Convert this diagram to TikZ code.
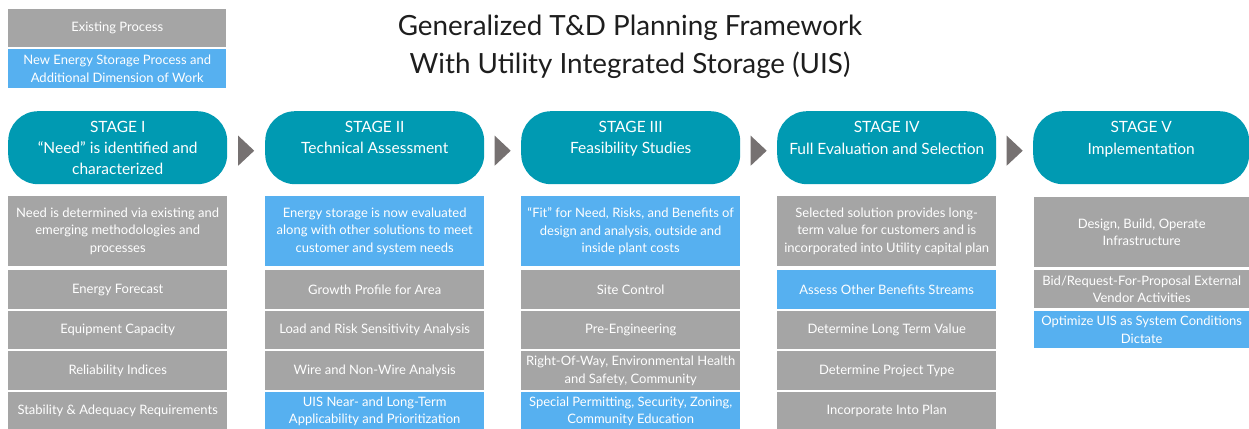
\documentclass[tikz,border=0pt]{standalone}
\usepackage{fontspec}
\setmainfont{Lato}
\usetikzlibrary{calc}
\definecolor{pillteal}{RGB}{0,154,178}
\definecolor{cellgray}{RGB}{165,165,165}
\definecolor{cellblue}{RGB}{86,176,240}
\definecolor{arrowgray}{RGB}{118,113,113}
\definecolor{titleink}{RGB}{30,30,30}
\begin{document}
\begin{tikzpicture}[x=1pt,y=-1pt,
  cell/.style={anchor=north west, inner sep=0pt, align=center, text=white,
    font=\fontsize{13}{17.5}\selectfont, minimum width=219pt},
  gcell/.style={cell, fill=cellgray},
  bcell/.style={cell, fill=cellblue},
  pill/.style={anchor=north west, fill=pillteal, rounded corners=30pt,
    minimum width=219pt, minimum height=73pt, inner sep=0pt},
  pilltext/.style={anchor=north, text=white, align=center,
    font=\fontsize{15.5}{21}\selectfont, inner sep=0pt},
  titletext/.style={anchor=center, text=titleink, align=center,
    font=\fontsize{27.8}{38}\selectfont, inner sep=0pt},
  chevron/.style={fill=arrowgray}
]
\useasboundingbox (0,0) rectangle (1249,428);
\clip (0,0) rectangle (1249,428);
\fill[white] (0,0) rectangle (1249,428);

% legend
\node[gcell, minimum width=218pt, minimum height=38pt] (legG) at (8,9) {Existing Process};
\node[bcell, minimum width=218pt, minimum height=39pt] (legB) at (8,49) {New Energy Storage Process and\\Additional Dimension of Work};

% title
\node[titletext] (title) at (630,47) {Generalized T\&D Planning Framework\\With Utility Integrated Storage (UIS)};

% stage headers
\node[pill] (p1) at (8,111) {};
\node[pill] (p2) at (265,111) {};
\node[pill] (p3) at (521,111) {};
\node[pill] (p4) at (777,111) {};
\node[pill, minimum width=216pt] (p5) at (1033,111) {};

\node[pilltext] (t1) at ($(p1.north)+(0,10.5)$) {STAGE I\\“Need” is identified and\\characterized};
\node[pilltext] (t2) at ($(p2.north)+(0,10.5)$) {STAGE II\\Technical Assessment};
\node[pilltext] (t3) at ($(p3.north)+(0,10.5)$) {STAGE III\\Feasibility Studies};
\node[pilltext] (t4) at ($(p4.north)+(0,10.5)$) {STAGE IV\\[1pt]Full Evaluation and Selection};
\node[pilltext] (t5) at ($(p5.north)+(0,10.5)$) {STAGE V\\[1pt]Implementation};

% chevrons between stages
\foreach \a/\b in {p1/p2, p2/p3, p3/p4, p4/p5}{
  \coordinate (m) at ($(\a.east)!0.5!(\b.west)+(0,3)$);
  \fill[chevron] ($(m)+(-8,-15)$) -- ($(m)+(8,0)$) -- ($(m)+(-8,15)$) -- cycle;
}

% stage I
\node[gcell, minimum height=70pt] (a1) at (8,196) {Need is determined via existing and\\emerging methodologies and\\processes};
\node[gcell, minimum height=39pt] (a2) at (8,270) {Energy Forecast};
\node[gcell, minimum height=38pt] (a3) at (8,311) {Equipment Capacity};
\node[gcell, minimum height=39pt] (a4) at (8,351) {Reliability Indices};
\node[gcell, minimum height=38pt] (a5) at (8,392) {Stability \& Adequacy Requirements};

% stage II
\node[bcell, minimum height=70pt] (b1) at (265,196) {Energy storage is now evaluated\\along with other solutions to meet\\customer and system needs};
\node[gcell, minimum height=39pt] (b2) at (265,270) {Growth Profile for Area};
\node[gcell, minimum height=38pt] (b3) at (265,311) {Load and Risk Sensitivity Analysis};
\node[gcell, minimum height=39pt] (b4) at (265,351) {Wire and Non-Wire Analysis};
\node[bcell, minimum height=38pt] (b5) at (265,392) {UIS Near- and Long-Term\\Applicability and Prioritization};

% stage III
\node[bcell, minimum height=70pt] (c1) at (521,196) {“Fit” for Need, Risks, and Benefits of\\design and analysis, outside and\\inside plant costs};
\node[gcell, minimum height=39pt] (c2) at (521,270) {Site Control};
\node[gcell, minimum height=38pt] (c3) at (521,311) {Pre-Engineering};
\node[gcell, minimum height=39pt] (c4) at (521,351) {Right-Of-Way, Environmental Health\\and Safety, Community};
\node[bcell, minimum height=38pt] (c5) at (521,392) {Special Permitting, Security, Zoning,\\Community Education};

% stage IV
\node[gcell, minimum height=70pt] (d1) at (777,196) {Selected solution provides long-\\term value for customers and is\\incorporated into Utility capital plan};
\node[bcell, minimum height=39pt] (d2) at (777,270) {Assess Other Benefits Streams};
\node[gcell, minimum height=38pt] (d3) at (777,311) {Determine Long Term Value};
\node[gcell, minimum height=39pt] (d4) at (777,351) {Determine Project Type};
\node[gcell, minimum height=38pt] (d5) at (777,392) {Incorporate Into Plan};

% stage V
\node[gcell, minimum width=215pt, minimum height=70pt] (e1) at (1034,197) {Design, Build, Operate\\Infrastructure};
\node[gcell, minimum width=215pt, minimum height=38pt] (e2) at (1034,270) {Bid/Request-For-Proposal External\\Vendor Activities};
\node[bcell, minimum width=215pt, minimum height=37pt] (e3) at (1034,311) {Optimize UIS as System Conditions\\Dictate};
\end{tikzpicture}
\end{document}
